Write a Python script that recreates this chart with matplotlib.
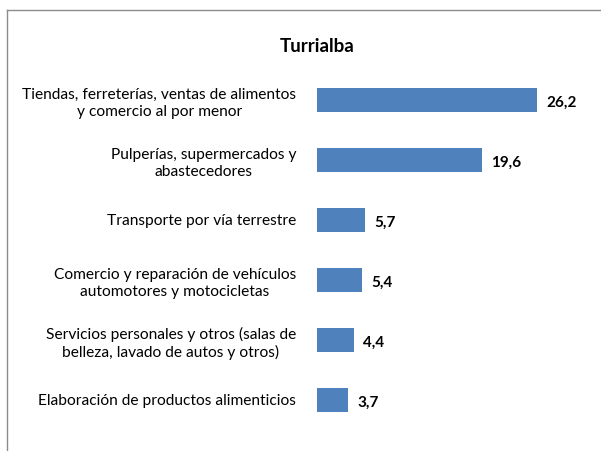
import matplotlib.pyplot as plt
from matplotlib.lines import Line2D

plt.rcParams['font.family'] = ['Lato', 'DejaVu Sans']

categorias = [
    "Tiendas, ferreterías, ventas de alimentos\ny comercio al por menor",
    "Pulperías, supermercados y\nabastecedores",
    "Transporte por vía terrestre",
    "Comercio y reparación de vehículos\nautomotores y motocicletas",
    "Servicios personales y otros (salas de\nbelleza, lavado de autos y otros)",
    "Elaboración de productos alimenticios",
]
valores = [26.2, 19.6, 5.7, 5.4, 4.4, 3.7]

W, H = 601, 451
fig = plt.figure(figsize=(W / 100, H / 100), dpi=100)

# marco del gráfico (solo arriba e izquierda visibles)
fig.add_artist(Line2D([7 / W, 1], [1 - 10 / H, 1 - 10 / H], color='#8c8c8c', lw=1))
fig.add_artist(Line2D([7 / W, 7 / W], [0, 1 - 10 / H], color='#8c8c8c', lw=1))

ax = fig.add_axes([317 / W, 1 - 430 / H, 252 / W, 360 / H])
y = list(range(len(valores)))
ax.barh(y, valores, height=0.4, color='#4f81bd')
ax.set_xlim(0, 30)
ax.set_ylim(len(valores) - 0.5, -0.5)

for yi, v in zip(y, valores):
    ax.text(v + 1.1, yi + 0.04, f"{v:.1f}".replace('.', ','), va='center', ha='left',
            fontsize=11, fontweight='bold')

ax.set_yticks(y)
ax.set_yticklabels(categorias, fontsize=11.2, multialignment='center', linespacing=1.3)
ax.tick_params(axis='y', length=0, pad=15)
ax.set_xticks([])
for s in ax.spines.values():
    s.set_visible(False)

fig.text(317 / W, 1 - 46 / H, "Turrialba", ha='center', va='center',
         fontsize=13.5, fontweight='bold')

fig.savefig('out.png', dpi=100)
